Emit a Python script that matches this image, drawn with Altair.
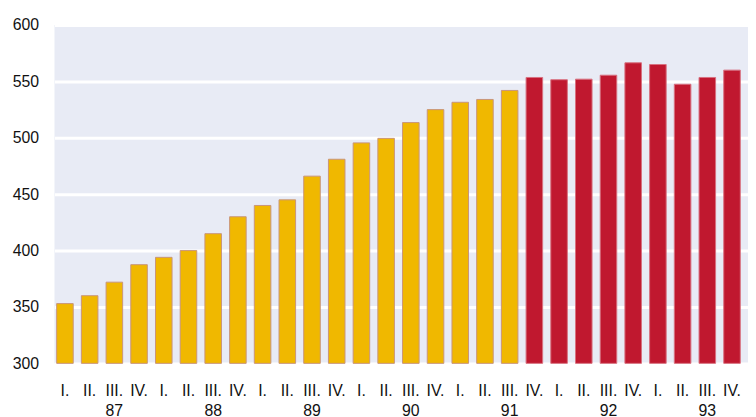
import altair as alt
import pandas as pd

years = ["87", "88", "89", "90", "91", "92", "93"]
quarters = ["I.", "II.", "III.", "IV."]
values = [353, 360, 372, 387.5, 394, 400, 415, 430,
          440, 445, 466, 481, 495.5, 499.5, 513.5, 525,
          531.5, 534, 542, 553.5,
          551.5, 552, 555.5, 566.5,
          565, 547.5, 553.5, 560]
n_yellow = 19

rows = []
i = 0
for y in years:
    for q in quarters:
        rows.append({"key": f"{y}-{q}", "value": values[i],
                     "group": "a" if i < n_yellow else "b"})
        i += 1
df = pd.DataFrame(rows)

label_expr = ("[split(datum.value, '-')[1], "
              "split(datum.value, '-')[1] == 'III.' ? split(datum.value, '-')[0] : '']")

chart = alt.Chart(df).mark_bar(strokeWidth=1).encode(
    x=alt.X("key:N", sort=None, title=None,
            scale=alt.Scale(paddingInner=0.33, paddingOuter=0.2, align=0.22),
            axis=alt.Axis(labelExpr=label_expr, labelAngle=0, ticks=False, domain=False,
                          labelPadding=19, labelLineHeight=21, labelFontSize=16,
                          labelColor="#111111", labelFont="Liberation Sans", grid=False)),
    y=alt.Y("value:Q", title=None,
            scale=alt.Scale(domain=[300, 600], nice=False, zero=False),
            axis=alt.Axis(values=[300, 350, 400, 450, 500, 550, 600], ticks=False, domain=False,
                          labelPadding=16, labelFontSize=16, labelColor="#111111",
                          labelFont="Liberation Sans", gridColor="white", gridWidth=3)),
    y2=alt.datum(300),
    fill=alt.Fill("group:N", legend=None,
                  scale=alt.Scale(domain=["a", "b"], range=["#F0B800", "#C0182F"])),
    stroke=alt.Stroke("group:N", legend=None,
                      scale=alt.Scale(domain=["a", "b"], range=["#C8957A", "#D8707F"])),
).properties(
    width=701, height=342,
    autosize=alt.AutoSizeParams(type="none"),
    padding={"left": 47, "top": 15, "right": 0, "bottom": 52},
).configure_view(fill="#E8EBF5", stroke=None)

chart.save("out.html", embed_options={"renderer": "svg", "actions": False})
